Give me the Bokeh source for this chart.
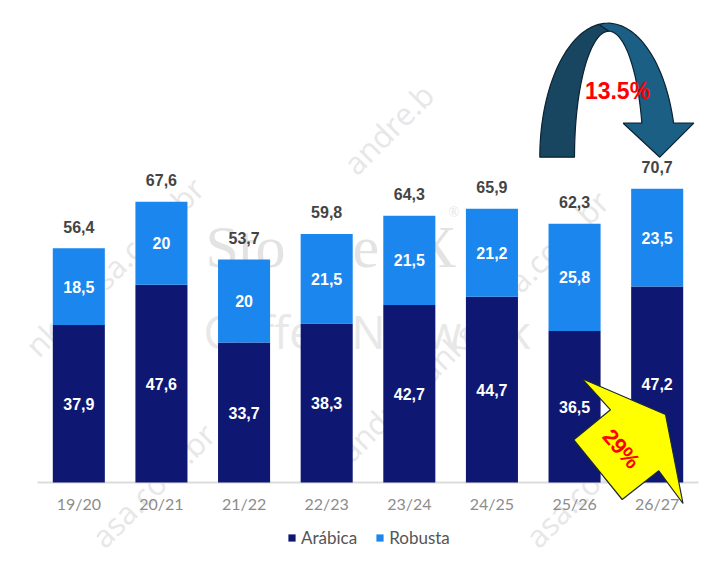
import numpy as np
from bokeh.plotting import figure
from bokeh.models import ColumnDataSource, Range1d, Legend, LegendItem
from bokeh.core.properties import value
from bokeh.embed import file_html
from bokeh.resources import INLINE

# ---------------- data ----------------
seasons = ["19/20", "20/21", "21/22", "22/23", "23/24", "24/25", "25/26", "26/27"]
arabica = [37.9, 47.6, 33.7, 38.3, 42.7, 44.7, 36.5, 47.2]
robusta = [18.5, 20.0, 20.0, 21.5, 21.5, 21.2, 25.8, 23.5]
totals = [56.4, 67.6, 53.7, 59.8, 64.3, 65.9, 62.3, 70.7]
series_names = ["Arábica", "Robusta"]
change_total = "13.5%"
change_arabica = "29%"
watermark_brand = ["Sto", "ne", "X"]
watermark_sub = "Coffee Network"
watermark_mail = ["nks@asa.com.br", "andre.b", "andre.banks@asa.com.br",
                  "asa.com.br", "asa.com.br"]

# ---------------- geometry (canvas pixels) ----------------
W, H = 720, 560
BLOCK_L = 37.0        # left edge of the first category slot
CAT_W = 82.625        # width of one category slot
BASE_Y = 482.0        # baseline (value 0)
PXU = 4.154           # pixels per value unit


def to_data(X, Y):
    X = np.asarray(X, dtype=float)
    Y = np.asarray(Y, dtype=float)
    return list((X - BLOCK_L) / CAT_W), list((BASE_Y - Y) / PXU)


def fmt(v):
    return f"{v:g}".replace(".", ",")


ARABICA_C = "#0e1872"
ROBUSTA_C = "#1a86ee"

xpos = [i + 0.5 for i in range(len(seasons))]
src = ColumnDataSource(dict(
    x=xpos,
    season=seasons,
    arabica=arabica,
    robusta=robusta,
    a_y=[a / 2 for a in arabica],
    r_y=[a + r / 2 for a, r in zip(arabica, robusta)],
    t_y=[t + 21.6 / PXU for t in totals],
    c_y=[-21.0 / PXU] * len(seasons),
    a_lbl=[fmt(v) for v in arabica],
    r_lbl=[fmt(v) for v in robusta],
    t_lbl=[fmt(v) for v in totals],
))

x0, _ = to_data([0], [0])
x1, _ = to_data([W], [0])
_, y1 = to_data([0], [0])
_, y0 = to_data([0], [H])
p = figure(x_range=Range1d(x0[0], x1[0]), y_range=Range1d(y0[0], y1[0]),
           width=W, height=H, output_backend="svg", toolbar_location=None,
           x_axis_location=None, y_axis_location=None,
           min_border=0, min_border_left=0, min_border_right=0,
           min_border_top=0, min_border_bottom=0)
p.outline_line_color = None
p.grid.visible = False
p.background_fill_color = "white"
p.border_fill_color = "white"

# ---------------- watermarks ----------------
bx, by = to_data([205, 322, 413], [246, 246, 246])
p.text(x=bx, y=by, text=watermark_brand, text_font=value("Liberation Serif"),
       text_font_size="60px", text_color="#e3e3e3", text_align="left",
       text_baseline="alphabetic")
rx, ry = to_data([448], [212])
p.text(x=rx, y=ry, text=["®"], text_font=value("Liberation Serif"),
       text_font_size="14px", text_color="#e3e3e3", text_align="left",
       text_baseline="alphabetic")
wx, wy = to_data([203], [331])
p.text(x=wx, y=wy, text=[watermark_sub], text_font=value("Open Sans"),
       text_font_size="45px", text_color="#e8e8e8", text_align="left",
       text_baseline="alphabetic")
mx, my = to_data([30, 348, 343, 96, 530], [350, 168, 455, 541, 541])
p.text(x=mx, y=my, text=watermark_mail, angle=np.pi / 4,
       text_font=value("Open Sans"), text_font_size="31px",
       text_color="#e7e7e7", text_align="left", text_baseline="middle")

# ---------------- baseline + category labels ----------------
p.segment(x0=[0], y0=[0], x1=[len(seasons)], y1=[0], line_color="#dcdcdc", line_width=2)
p.text(x="x", y="c_y", text="season", source=src, text_font=value("Lato"),
       text_font_size="16px", text_color="#8c8c8c", text_align="center",
       text_baseline="middle")

# ---------------- bars ----------------
rs = p.vbar_stack(["arabica", "robusta"], x="x", width=0.63,
                  color=[ARABICA_C, ROBUSTA_C], line_color=None, source=src)

lbl_kw = dict(text_font=value("Liberation Sans"), text_font_size="16px",
              text_font_style="bold", text_align="center", text_baseline="middle")
p.text(x="x", y="a_y", text="a_lbl", text_color="white", source=src, **lbl_kw)
p.text(x="x", y="r_y", text="r_lbl", text_color="white", source=src, **lbl_kw)
p.text(x="x", y="t_y", text="t_lbl", text_color="#444444", source=src, **lbl_kw)

legend = Legend(items=[LegendItem(label=series_names[0], renderers=[rs[0]]),
                       LegendItem(label=series_names[1], renderers=[rs[1]])],
                orientation="horizontal", location=(287, 12),
                label_text_font="Lato", label_text_font_size="17px",
                label_text_color="#555555", glyph_width=9, glyph_height=9,
                label_standoff=5, spacing=18, padding=0, margin=0,
                border_line_color=None, background_fill_alpha=0)
p.add_layout(legend)

# ---------------- curved arrow (13.5%) ----------------
oc, oa, ob = (607.3, 156.7), 68.0, 134.0
ic, ia, ib = (608.3, 156.7), 34.3, 126.0


def arc(c, a, b, t0, t1, n=40):
    t = np.radians(np.linspace(t0, t1, n))
    return list(c[0] + a * np.cos(t)), list(c[1] - b * np.sin(t))


ox1, oy1 = arc(oc, oa, ob, 180, 97.6)
ix1, iy1 = arc(ic, ia, ib, 90, 180)
dark_x, dark_y = to_data(ox1 + ix1, oy1 + iy1)
ox2, oy2 = arc(oc, oa, ob, 97.6, 14.7)
ix2, iy2 = arc(ic, ia, ib, 15.65, 90)
head_x = [693.3, 659.3, 622.7]
head_y = [122.7, 156.7, 122.7]
light_x, light_y = to_data(ox2 + head_x + ix2, oy2 + head_y + iy2)
p.patch(light_x, light_y, fill_color="#1c5f84", line_color="#0b2232", line_width=1.2)
p.patch(dark_x, dark_y, fill_color="#18455f", line_color="#0b2232", line_width=1.2)
tx, ty = to_data([617], [90])
p.text(x=tx, y=ty, text=[change_total], text_color="#ff0000",
       text_font=value("Liberation Sans"), text_font_size="23px",
       text_font_style="bold", text_align="center", text_baseline="middle")

# ---------------- yellow arrow (29%) ----------------
yx, yy = to_data([581.7, 665.0, 682.5, 658.3, 621.7, 573.3, 610.0],
                 [378.3, 414.0, 503.0, 470.3, 499.0, 439.3, 409.3])
p.patch(yx, yy, fill_color="#ffff00", line_color="#1c2a30", line_width=1.2)
tx, ty = to_data([620.8], [448.3])
p.text(x=tx, y=ty, text=[change_arabica], text_color="#ff0000", angle=-0.85,
       text_font=value("Liberation Sans"), text_font_size="22px",
       text_font_style="bold", text_align="center", text_baseline="middle")

open("out.html", "w").write(file_html(p, INLINE))
